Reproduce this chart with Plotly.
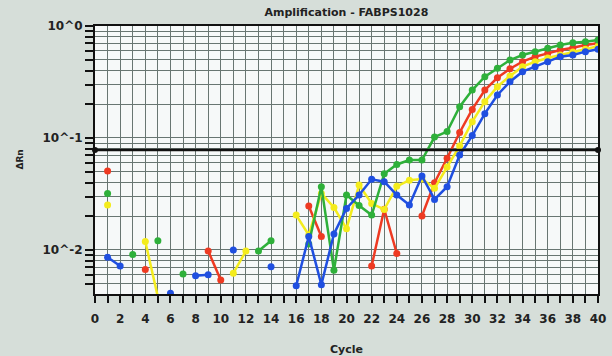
import plotly.graph_objects as go

cycles = list(range(1, 41))

def series(d):
    return [d.get(c) for c in cycles]

red_vals = series({1: 0.0507, 4: 0.0067, 9: 0.0098, 10: 0.0054, 17: 0.0247, 18: 0.0132,
                   22: 0.0072, 23: 0.0231, 24: 0.0093, 26: 0.0201, 27: 0.0399, 28: 0.066,
                   29: 0.112, 30: 0.18, 31: 0.268, 32: 0.345, 33: 0.415, 34: 0.48, 35: 0.532,
                   36: 0.57, 37: 0.61, 38: 0.64, 39: 0.677, 40: 0.70})
yellow_vals = series({1: 0.0252, 4: 0.0119, 5: 0.0038, 11: 0.0062, 12: 0.0098, 16: 0.0205,
                      17: 0.0136, 18: 0.032, 19: 0.024, 20: 0.0155, 21: 0.038, 22: 0.026,
                      23: 0.023, 24: 0.037, 25: 0.042, 26: 0.043, 27: 0.0355, 28: 0.055,
                      29: 0.085, 30: 0.14, 31: 0.211, 32: 0.287, 33: 0.358, 34: 0.433,
                      35: 0.48, 36: 0.518, 37: 0.55, 38: 0.585, 39: 0.62, 40: 0.66})
green_vals = series({1: 0.032, 3: 0.0091, 5: 0.0121, 7: 0.0061, 13: 0.0098, 14: 0.0121,
                     17: 0.0113, 18: 0.0367, 19: 0.0066, 20: 0.031, 21: 0.025, 22: 0.0205,
                     23: 0.048, 24: 0.058, 25: 0.0636, 26: 0.0636, 27: 0.102, 28: 0.114,
                     29: 0.19, 30: 0.268, 31: 0.353, 32: 0.419, 33: 0.497, 34: 0.551,
                     35: 0.59, 36: 0.632, 37: 0.677, 38: 0.71, 39: 0.724, 40: 0.75})
blue_vals = series({1: 0.0086, 2: 0.0072, 6: 0.0041, 8: 0.0059, 9: 0.006, 11: 0.01, 14: 0.0071,
                    16: 0.0048, 17: 0.0132, 18: 0.0049, 19: 0.0139, 20: 0.0235, 21: 0.031,
                    22: 0.0428, 23: 0.0407, 24: 0.031, 25: 0.0252, 26: 0.0458, 27: 0.0283,
                    28: 0.0367, 29: 0.0705, 30: 0.105, 31: 0.165, 32: 0.242, 33: 0.318,
                    34: 0.391, 35: 0.433, 36: 0.48, 37: 0.532, 38: 0.551, 39: 0.59, 40: 0.62})

threshold = 0.078
x_ticks = list(range(0, 41, 2))
y_decades = [1, 0.1, 0.01]
y_decade_labels = ["10^0", "10^-1", "10^-2"]

# minor positions on the log axis
y_tickvals, y_ticktext = [], []
for dec in [1, 0.1, 0.01, 0.001]:
    for m in range(1, 10):
        v = dec * m
        if 0.004 <= v <= 1.0001:
            y_tickvals.append(v)
            if m == 1 and dec in y_decades:
                y_ticktext.append(y_decade_labels[y_decades.index(dec)])
            else:
                y_ticktext.append("")

colors = {"red": "#ee3a22", "yellow": "#f4ec1c", "green": "#2eb03a", "blue": "#1f4fe0"}

fig = go.Figure()
for name, vals in [("red", red_vals), ("yellow", yellow_vals), ("green", green_vals), ("blue", blue_vals)]:
    fig.add_trace(go.Scatter(x=cycles, y=vals, mode="lines+markers", name=name,
                             line=dict(color=colors[name], width=2.5),
                             marker=dict(color=colors[name], size=7),
                             connectgaps=False, showlegend=False))

fig.add_trace(go.Scatter(x=[0, 40], y=[threshold, threshold], mode="lines+markers",
                         line=dict(color="#111", width=2.5),
                         marker=dict(color="#111", size=6), showlegend=False,
                         cliponaxis=False))

grid_col = "#687672"
fig.update_xaxes(range=[0, 40], tickvals=x_ticks, ticks="outside", ticklen=7, tickwidth=2,
                 tickcolor="#111", showline=True, linecolor="#111", linewidth=2, mirror=True,
                 showgrid=True, gridcolor=grid_col, gridwidth=1, automargin=False,
                 ticklabelstandoff=6,
                 minor=dict(dtick=1, ticks="outside", ticklen=7, tickwidth=2, tickcolor="#111",
                            showgrid=True, gridcolor=grid_col, gridwidth=1),
                 tickfont=dict(family="DejaVu Sans", size=12, color="#222", weight="bold"),
                 title=dict(text="Cycle", font=dict(family="DejaVu Sans", size=11, color="#222",
                                                    weight="bold"), standoff=22),
                 zeroline=False)
fig.update_yaxes(type="log", range=[-2.393, 0], tickvals=y_tickvals, ticktext=y_ticktext,
                 ticks="outside", ticklen=8, tickwidth=2, tickcolor="#111",
                 showline=True, linecolor="#111", linewidth=2, mirror=True,
                 showgrid=True, gridcolor=grid_col, gridwidth=1, automargin=False,
                 tickfont=dict(family="DejaVu Sans", size=12, color="#222", weight="bold"),
                 zeroline=False)

fig.add_annotation(text="ΔRn", xref="paper", yref="paper", x=-0.15, y=0.5,
                   xanchor="center", yanchor="middle", textangle=-90, showarrow=False,
                   font=dict(family="DejaVu Sans", size=9, color="#222", weight="bold"))

fig.update_layout(
    width=612, height=356,
    margin=dict(l=95, r=14, t=26, b=62),
    paper_bgcolor="#d6ded9",
    plot_bgcolor="#f6f9f9",
    title=dict(text="Amplification - FABPS1028", x=0.566, xanchor="center", y=0.965,
               yanchor="middle",
               font=dict(family="DejaVu Sans", size=11, color="#222", weight="bold")),
)

fig.write_html("out.html", config={"displayModeBar": False},
               post_script="document.body.style.margin='0';")
